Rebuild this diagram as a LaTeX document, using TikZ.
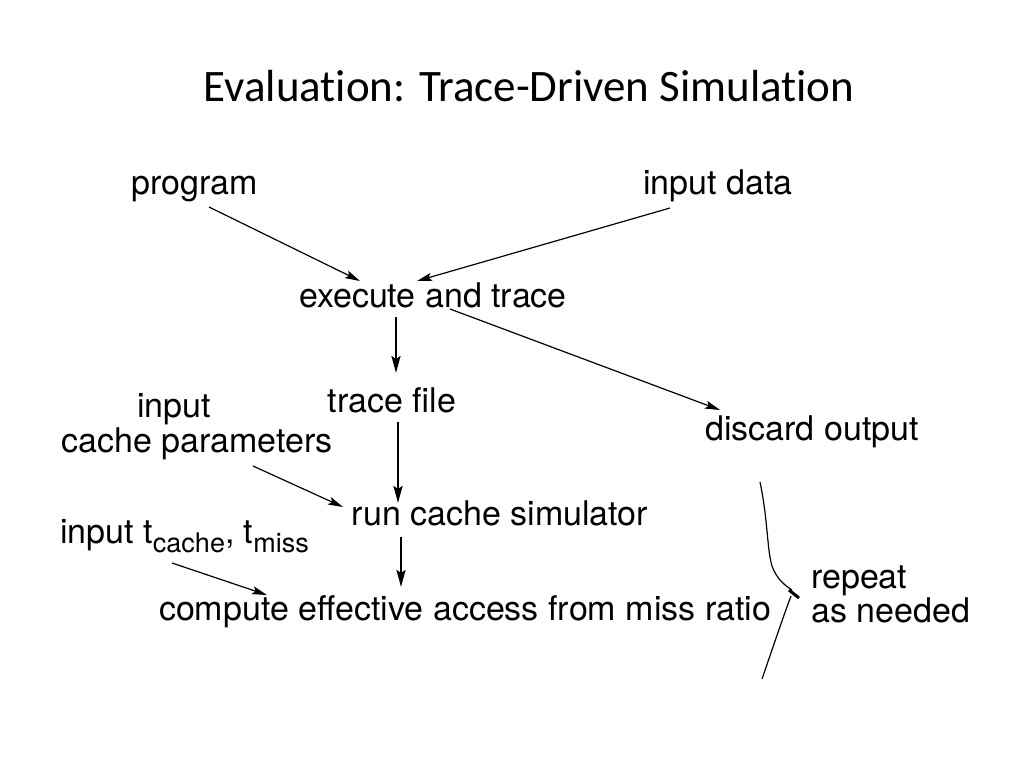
\documentclass[tikz,border=0pt]{standalone}
\usepackage{fontspec}
\setmainfont{TeX Gyre Heros}
\newfontfamily\titlefont[Ligatures=NoCommon]{Carlito}
\usetikzlibrary{arrows.meta,calc}
\newcommand{\lowsub}[1]{\raisebox{-9pt}{\fontsize{27}{30}\selectfont #1}}

\begin{document}
\begin{tikzpicture}[x=1pt,y=-1pt,
        every node/.style={inner sep=0pt,anchor=base,font=\fontsize{34}{39}\selectfont},
        arr/.style={-{Stealth[length=15pt,width=8pt,inset=3pt]},line width=1.2pt},
        down/.style={-{Stealth[length=17pt,width=9pt,inset=3pt]},line width=2.4pt}]

    \useasboundingbox[fill=white] (0,0) rectangle (1024,768);
    \node[font=\titlefont\fontsize{45}{54}\selectfont] (title) at (529,101) {Evaluation: Trace-Driven Simulation};

    \node (prog) at (195,194) {program};
    \node (data) at (718,194) {input data};
    \node (exec) at (433,307) {execute and trace};
    \node (trace) at (392,412) {trace file};
    \node (disc) at (812,440) {discard output};
    \node (inp) at (174,417) {input};
    \node (cpar) at (197,452) {cache parameters};
    \node (run) at (500,525) {run cache simulator};
    \node[anchor=base west] (tin) at (60,543) {input t\lowsub{cache}, t\lowsub{miss}};
    \node (comp) at (465,620) {compute effective access from miss ratio};
    \node[anchor=base west] (rep) at (811,588) {repeat};
    \node[anchor=base west] (need) at (811,622) {as needed};

    \draw[arr] ($(prog.base)+(14,13)$) -- ($(exec.base)+(-73,-26)$);
    \draw[arr] ($(data.base)+(-48,14)$) -- ($(exec.base)+(-16,-26)$);
    \draw[down] ($(exec.base)+(-37,10)$) -- ($(trace.base)+(4,-39)$);
    \draw[arr] ($(exec.base)+(17,2)$) -- ($(disc.base)+(-92,-30)$);
    \draw[down] ($(trace.base)+(6,10)$) -- ($(run.base)+(-102,-22)$);
    \draw[arr] ($(cpar.base)+(56,14)$) -- ($(run.base)+(-157,-18)$);
    \draw[down] ($(run.base)+(-99,12)$) -- ($(comp.base)+(-64,-33)$);
    \draw[arr] ($(tin.base west)+(112,20)$) -- ($(comp.base)+(-198,-25)$);

    % hand drawn brace
    \draw[line width=1.2pt] (760,482) .. controls (768,520) and (767,550) .. (772,566)
        .. controls (777,580) and (786,586) .. (792,590);
    \draw[line width=3pt] (789,590) -- (799,598);
    \draw[line width=1.2pt] (791,596) .. controls (782,620) and (772,650) .. (762,679);
\end{tikzpicture}
\end{document}
